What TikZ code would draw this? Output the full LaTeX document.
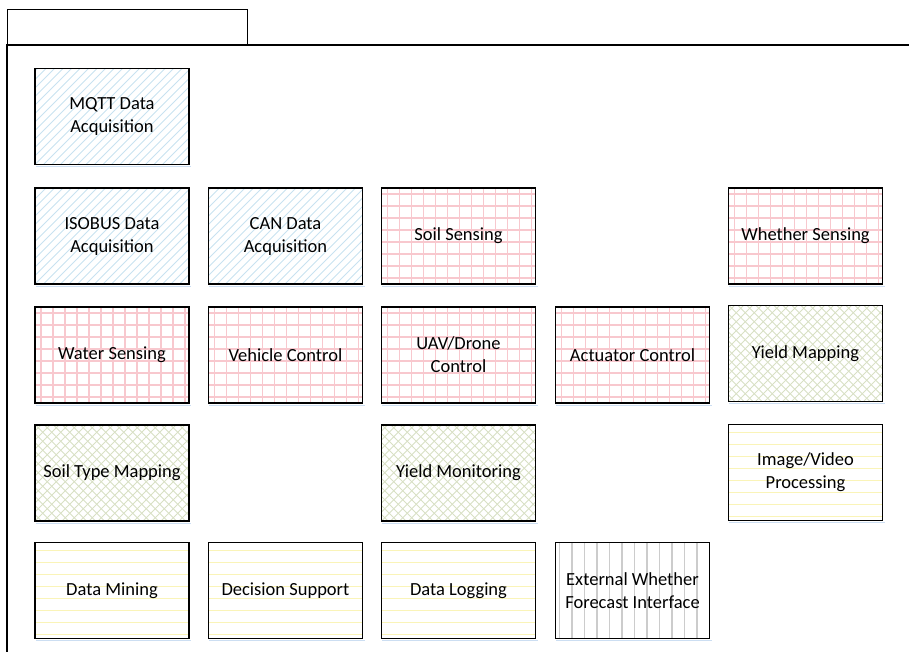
\documentclass[tikz,border=0pt]{standalone}
\usepackage{fontspec}
\setmainfont{Carlito}
\usetikzlibrary{calc}

\definecolor{hatchblue}{RGB}{200,226,240}
\definecolor{gridpink}{RGB}{248,200,206}
\definecolor{crossgreen}{RGB}{216,224,196}
\definecolor{lineyellow}{RGB}{250,244,184}
\definecolor{linegray}{RGB}{204,204,204}
\definecolor{shadowblue}{RGB}{204,222,242}

\tikzset{
  box/.style={draw=black, line width=1.1pt, minimum width=154pt, minimum height=96pt,
    inner sep=2pt, align=center, font=\fontsize{18.5}{23}\selectfont,
    append after command={\pgfextra{\draw[shadowblue, line width=1.2pt]
      ($(\tikzlastnode.south west)+(1.5pt,-1.6pt)$) -- ($(\tikzlastnode.south east)+(1.5pt,-1.6pt)$);}}},
  hatchfill/.style={path picture={
    \foreach \k in {-13,...,20}{
      \draw[hatchblue, line width=0.8pt] ($(path picture bounding box.south west)+(\k*8.5pt,0)$) -- ++(120pt,120pt);}}},
  gridfill/.style={path picture={
    \foreach \k in {0,...,13}{
      \draw[gridpink, line width=1.1pt] ($(path picture bounding box.south west)+(\k*12pt+6pt,0)$) -- ++(0,110pt);}
    \foreach \k in {0,...,8}{
      \draw[gridpink, line width=1.1pt] ($(path picture bounding box.south west)+(0,\k*12pt+6pt)$) -- ++(170pt,0);}}},
  crossfill/.style={path picture={
    \foreach \k in {-13,...,18}{
      \draw[crossgreen, line width=0.9pt] ($(path picture bounding box.south west)+(\k*9pt,0)$) -- ++(120pt,120pt);
      \draw[crossgreen, line width=0.9pt] ($(path picture bounding box.south west)+(\k*9pt+4.5pt+110pt,0)$) -- ++(-120pt,120pt);}}},
  yellowfill/.style={path picture={
    \foreach \k in {0,...,8}{
      \draw[lineyellow, line width=1.5pt] ($(path picture bounding box.south west)+(0,\k*12pt+4pt)$) -- ++(170pt,0);}}},
  grayfill/.style={path picture={
    \foreach \k in {0,...,12}{
      \draw[linegray, line width=1.3pt] ($(path picture bounding box.south west)+(\k*12.5pt+4pt,0)$) -- ++(0,110pt);}}},
}

\begin{document}
\begin{tikzpicture}[x=1pt, y=1pt]
  \useasboundingbox (0,0) rectangle (909,-652);

  % frame with title tab
  \node[draw=black, line width=1.1pt, minimum width=240pt, minimum height=36pt, inner sep=0pt, anchor=north west] (tab) at (7,-9) {};
  \coordinate (frameR) at (909,-45);
  \coordinate (frameB) at (7,-652);
  \draw[black, line width=1.1pt] (frameB) |- (frameR);

  % row 1
  \node[box, hatchfill] (mqtt) at (112,-116.5) {MQTT Data\\Acquisition};
  % row 2
  \node[box, hatchfill] (isobus) at (112,-236) {ISOBUS Data\\Acquisition};
  \node[box, hatchfill] (can) at (285.5,-236) {CAN Data\\Acquisition};
  \node[box, gridfill] (soil) at (458.5,-236) {Soil Sensing};
  \node[box, gridfill] (whether) at (805.5,-236) {Whether Sensing};
  % row 3
  \node[box, gridfill] (water) at (112,-355) {Water Sensing};
  \node[box, gridfill] (vehicle) at (285.5,-355) {Vehicle Control};
  \node[box, gridfill] (uav) at (458.5,-355) {UAV/Drone\\Control};
  \node[box, gridfill] (actuator) at (632.5,-355) {Actuator Control};
  \node[box, crossfill] (yieldmap) at (805.5,-353.5) {Yield Mapping};
  % row 4
  \node[box, crossfill] (soiltype) at (112,-473) {Soil Type Mapping};
  \node[box, crossfill] (yieldmon) at (458.5,-473) {Yield Monitoring};
  \node[box, yellowfill] (image) at (805.5,-472.5) {Image/Video\\Processing};
  % row 5
  \node[box, yellowfill] (mining) at (112,-590.5) {Data Mining};
  \node[box, yellowfill] (decision) at (285.5,-590.5) {Decision Support};
  \node[box, yellowfill] (logging) at (458.5,-590.5) {Data Logging};
  \node[box, grayfill] (forecast) at (632.5,-590.5) {External Whether\\Forecast Interface};
\end{tikzpicture}
\end{document}
